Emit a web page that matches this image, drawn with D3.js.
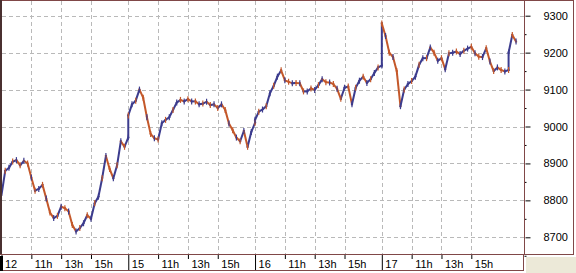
<!DOCTYPE html>
<html>
<head>
<meta charset="utf-8">
<script src="https://cdn.jsdelivr.net/npm/d3@7"></script>
<style>
  body { margin: 0; background: #fff; }
  svg { display: block; }
  .tick text { font-family: "Liberation Sans", Arial, sans-serif; font-size: 11px; fill: #000; }
</style>
</head>
<body>
<div id="chart"></div>
<script>
// index values, one reading every 15 min from 9:00 to 17:30
var day12 = [8815, 8880, 8888, 8905, 8909, 8895, 8907, 8900, 8862, 8826, 8831, 8842, 8805, 8767, 8752, 8758, 8783, 8779,
             8770, 8733, 8716, 8725, 8738, 8760, 8750, 8792, 8810, 8860, 8920, 8885, 8860, 8895, 8960, 8945, 8970];
var day15 = [9030, 9060, 9070, 9100, 9078, 9025, 8980, 8968, 8965, 9009, 9018, 9025, 9045, 9065, 9072, 9068, 9074, 9068,
             9068, 9060, 9062, 9067, 9058, 9060, 9050, 9060, 9045, 9008, 8990, 8970, 8960, 8988, 8945, 8985, 9010];
var day16 = [9018, 9040, 9046, 9055, 9090, 9110, 9135, 9152, 9125, 9121, 9117, 9118, 9117, 9095, 9095, 9103, 9099, 9112,
             9128, 9120, 9119, 9115, 9102, 9075, 9105, 9108, 9060, 9105, 9124, 9135, 9118, 9128, 9145, 9160, 9165];
var day17 = [9279, 9245, 9200, 9188, 9150, 9055, 9100, 9115, 9123, 9135, 9167, 9185, 9185, 9214, 9200, 9178, 9185, 9155,
             9198, 9200, 9203, 9196, 9205, 9211, 9216, 9198, 9189, 9188, 9212, 9176, 9150, 9160, 9153, 9149, 9153];
var day18 = [9200, 9248, 9230];

var sessions = [day12, day15, day16, day17, day18];
var dayLabels = ["12", "15", "16", "17"];
var hourLabels = ["11h", "13h", "15h"];
var hourOffsets = [120, 240, 360];          // minutes after 9:00
var priceTicks = [8700, 8800, 8900, 9000, 9100, 9200, 9300];
var minorTicks = [8650, 8750, 8850, 8950, 9050, 9150, 9250];

var dayLen = 510, step = 15;
var frame = '#804848', up = '#3c3c8e', down = '#c4582a';

var width = 576, height = 273;
var plotR = 524, plotB = 254;

var svg = d3.select('#chart').append('svg')
    .attr('width', width)
    .attr('height', height);

var x = d3.scaleLinear().domain([0, 2102]).range([1.5, plotR]);
var y = d3.scaleLinear().domain([8654.8, 9342.5]).range([plotB, 0]);

var pts = [];
sessions.forEach(function(vals, d) {
    vals.forEach(function(v, i) {
        pts.push({t: d * dayLen + i * step, v: v});
    });
});

var dayTicks = dayLabels.map(function(l, d) { return d * dayLen; });
var hourTicks = [];
dayLabels.forEach(function(l, d) {
    hourOffsets.forEach(function(o, k) { hourTicks.push({t: d * dayLen + o, label: hourLabels[k]}); });
});

// grey corner
svg.append('rect')
    .attr('x', 526).attr('y', 257)
    .attr('width', 50).attr('height', 16)
    .style('fill', '#ece9d8');

// grid
var grid = svg.append('g')
    .style('stroke', '#b9b9b9')
    .style('stroke-dasharray', '4,3')
    .style('shape-rendering', 'crispEdges');

grid.selectAll('.hg')
    .data(priceTicks)
    .enter()
    .append('line')
    .attr('x1', 2).attr('x2', plotR)
    .attr('y1', function(d) { return Math.round(y(d)) + 0.5; })
    .attr('y2', function(d) { return Math.round(y(d)) + 0.5; });

grid.selectAll('.vg')
    .data(dayTicks.slice(1).concat(hourTicks.map(function(d) { return d.t; })))
    .enter()
    .append('line')
    .attr('x1', function(d) { return Math.round(x(d)) + 0.5; })
    .attr('x2', function(d) { return Math.round(x(d)) + 0.5; })
    .attr('y1', 1).attr('y2', plotB);

var pairs = d3.pairs(pts);

// price line, coloured by direction
svg.append('g')
    .selectAll('line')
    .data(pairs)
    .enter()
    .append('line')
    .attr('x1', function(d) { return x(d[0].t); })
    .attr('y1', function(d) { return y(d[0].v); })
    .attr('x2', function(d) { return x(d[1].t); })
    .attr('y2', function(d) { return y(d[1].v); })
    .style('stroke', function(d) { return d[1].v >= d[0].v ? up : down; })
    .style('stroke-width', 2)
    .style('stroke-linecap', 'square');

// small bar ticks on every reading
svg.append('g')
    .selectAll('line')
    .data(pairs)
    .enter()
    .append('line')
    .attr('x1', function(d) { return x(d[1].t); })
    .attr('x2', function(d) { return x(d[1].t); })
    .attr('y1', function(d) { return y(d[1].v) - 3; })
    .attr('y2', function(d) { return y(d[1].v) + 3; })
    .style('stroke', function(d, i) { return i % 2 ? up : down; })
    .style('stroke-width', 1.2);

// right price axis
var yAxis = svg.append('g')
    .attr('transform', 'translate(' + (plotR + 0.5) + ',0)')
    .call(d3.axisRight(y).tickValues(priceTicks).tickSize(6).tickPadding(13).tickFormat(d3.format('d')));
yAxis.select('.domain').remove();
yAxis.selectAll('line').style('stroke', '#000').attr('x1', 1);

svg.append('g')
    .attr('transform', 'translate(' + (plotR + 0.5) + ',0)')
    .call(d3.axisRight(y).tickValues(minorTicks).tickSize(2).tickFormat(''))
    .call(function(g) { g.select('.domain').remove(); })
    .selectAll('line').style('stroke', '#000');

// bottom time axis
var xAxis = svg.append('g')
    .attr('transform', 'translate(0,' + (plotB + 1) + ')')
    .call(d3.axisBottom(x).tickValues(hourTicks.map(function(d) { return d.t; })).tickSize(4)
        .tickFormat(function(d, i) { return hourTicks[i].label; }));
xAxis.select('.domain').remove();
xAxis.selectAll('line').style('stroke', '#000');
xAxis.selectAll('text').attr('text-anchor', 'start').attr('dx', 3).attr('y', 5);

var dAxis = svg.append('g')
    .attr('transform', 'translate(0,' + (plotB + 1) + ')')
    .call(d3.axisBottom(x).tickValues(dayTicks).tickSize(16)
        .tickFormat(function(d, i) { return dayLabels[i]; }));
dAxis.select('.domain').remove();
dAxis.selectAll('line').style('stroke', '#000');
dAxis.selectAll('text').attr('text-anchor', 'start').attr('dx', 3).attr('y', 5);

// frame
var f = svg.append('g')
    .style('stroke', frame)
    .style('fill', 'none')
    .style('shape-rendering', 'crispEdges');
f.append('line').attr('x1', 0).attr('x2', 574).attr('y1', 0.5).attr('y2', 0.5);
f.append('line').attr('x1', plotR + 0.5).attr('x2', plotR + 0.5).attr('y1', 0).attr('y2', plotB + 1);
f.append('line').attr('x1', 573.5).attr('x2', 573.5).attr('y1', 0).attr('y2', plotB + 1);
f.append('line').attr('x1', 0).attr('x2', 574).attr('y1', plotB + 0.5).attr('y2', plotB + 0.5);
f.append('line').attr('x1', 0).attr('x2', 524).attr('y1', 270.5).attr('y2', 270.5);
f.append('line').attr('x1', 523.5).attr('x2', 523.5).attr('y1', plotB).attr('y2', 271);

svg.append('rect')
    .attr('x', 0).attr('y', 0)
    .attr('width', 2).attr('height', plotB)
    .style('fill', '#4a3030');
svg.append('rect')
    .attr('x', 0).attr('y', plotB + 2)
    .attr('width', 3).attr('height', 15)
    .style('fill', '#000');
</script>
</body>
</html>
